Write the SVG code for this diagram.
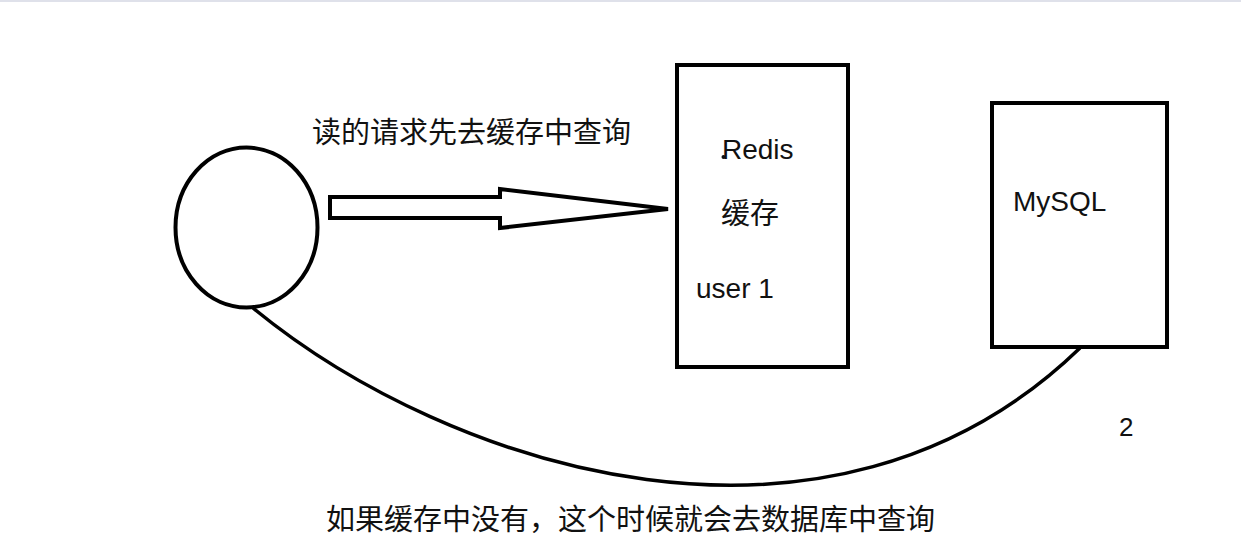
<svg xmlns="http://www.w3.org/2000/svg" width="1241" height="550" viewBox="0 0 1241 550">
<style>
.s{fill:#fff;stroke:#000;stroke-width:4}
.t{font-family:"Noto Sans CJK SC",sans-serif;font-size:29px;fill:#111}
.l{font-family:"Liberation Sans","Noto Sans CJK SC",sans-serif;font-size:28px;fill:#111}
</style>
<rect width="1241" height="550" fill="#fff"/>
<rect x="0" y="0" width="1241" height="2" fill="#dfe1ea"/>
<g id="client"><ellipse class="s" cx="246.5" cy="227.5" rx="71" ry="80"/></g>
<g id="redis">
<rect class="s" x="677" y="65" width="171" height="302"/>
<circle cx="723.5" cy="157" r="2" fill="#111"/>
<text class="l" x="722" y="159">Redis</text>
<text class="t" x="721" y="224">缓存</text>
<text class="l" x="696" y="298">user 1</text>
</g>
<g id="mysql">
<rect class="s" x="992" y="103" width="175" height="244"/>
<text class="l" x="1013" y="211">MySQL</text>
</g>
<g id="connectors">
<polygon class="s" points="330,197 500,197 500,189 668,209 500,228 500,218 330,218" stroke-linejoin="miter"/>
<path d="M253,308 C450,470 830,590 1080,348" fill="none" stroke="#000" stroke-width="3.5"/>
</g>
<text class="t" x="312" y="143">读的请求先去缓存中查询</text>
<text class="l" x="1119" y="436" style="font-size:26px">2</text>
<text class="t" x="326" y="530">如果缓存中没有，这个时候就会去数据库中查询</text>
</svg>
